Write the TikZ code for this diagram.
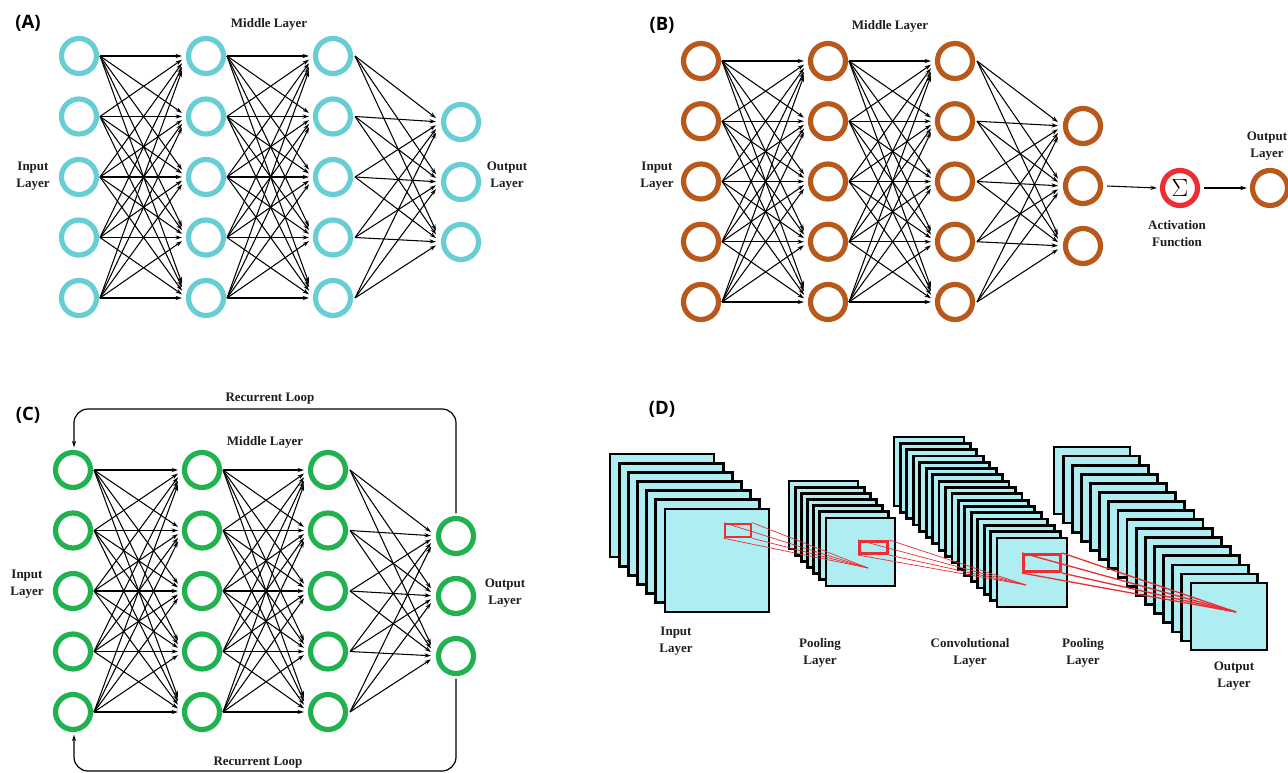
\documentclass[tikz,border=0pt]{standalone}
\usepackage{fontspec}
\setmainfont{Liberation Serif}
\newfontfamily\panelfont{Open Sans}
\usetikzlibrary{arrows.meta,calc}
\definecolor{ringA}{RGB}{104,206,214}
\definecolor{ringB}{RGB}{184,88,26}
\definecolor{ringC}{RGB}{32,178,78}
\definecolor{dfill}{RGB}{174,238,242}
\definecolor{redc}{RGB}{238,44,50}
\definecolor{txt}{RGB}{30,30,30}
\newcommand{\mlpnet}[9]{%
  \foreach \i in {1,...,5}{%
    \node[neuron,draw=#2] (#1a\i) at (#3,{#7+(\i-1)*#9}) {};
    \node[neuron,draw=#2] (#1b\i) at (#4,{#7+(\i-1)*#9}) {};
    \node[neuron,draw=#2] (#1c\i) at (#5,{#7+(\i-1)*#9}) {};
  }
  \foreach \i in {1,2,3}{%
    \node[neuron,draw=#2] (#1d\i) at (#6,{#8+(\i-1)*60}) {};
  }
  \foreach \i in {1,...,5}{%
    \foreach \j in {1,...,5}{%
      \draw[conn] let \p1=(#1a\i.center),\p2=(#1b\j.center) in (\x1+21pt,\y1) -- (\x2-24pt,{\y2+0.06*((\y1)-(\y2))});
      \draw[conn] let \p1=(#1b\i.center),\p2=(#1c\j.center) in (\x1+21pt,\y1) -- (\x2-24pt,{\y2+0.06*((\y1)-(\y2))});
    }
    \foreach \j in {1,2,3}{%
      \draw[conn] let \p1=(#1c\i.center),\p2=(#1d\j.center) in (\x1+22pt,\y1) -- (\x2-25pt,{\y2+0.06*((\y1)-(\y2))});
    }
  }
}
\newcommand{\fmstack}[7]{%
  \foreach \k in {0,...,#5}{%
    \draw[fmap] ({#1+\k*#3},{#2+\k*#4}) rectangle ++(#6,#7);
  }
}
\begin{document}
\begin{tikzpicture}[x=1pt,y=-1pt,
  neuron/.style={circle,minimum size=35pt,inner sep=0pt,line width=5.2pt},
  conn/.style={line width=1.05pt,draw=black,-{Stealth[length=6.5pt,width=4.2pt]}},
  lab/.style={font=\bfseries\fontsize{13}{17}\selectfont,align=center,text=txt,inner sep=0pt},
  panel/.style={font=\panelfont\bfseries\fontsize{18.5}{18.5}\selectfont,inner sep=0pt,text=black},
  fmap/.style={fill=dfill,draw=black,line width=2.8pt},
  redbox/.style={rectangle,draw=redc,line width=2.6pt,inner sep=0pt},
  redline/.style={draw=redc,line width=0.7pt},
  loopline/.style={line width=1.2pt,rounded corners=14pt,-{Stealth[length=6.5pt,width=4.2pt]}}]
\useasboundingbox[fill=white] (0,0) rectangle (1288,773);

% ---------------- (A)
\node[panel] (pA) at (28,23) {(A)};
\mlpnet{A}{ringA}{79}{206}{333}{461}{56}{122}{60.5}
\node[lab] (midA) at (269,24) {Middle Layer};
\node[lab] (inA) at (33,176) {Input\\Layer};
\node[lab] (outA) at (507,176) {Output\\Layer};

% ---------------- (B)
\node[panel] (pB) at (662,25) {(B)};
\mlpnet{B}{ringB}{701}{828}{955}{1083}{61}{126}{60.25}
\node[lab] (midB) at (890,26) {Middle Layer};
\node[lab] (inB) at (657,176) {Input\\Layer};
\node[neuron,draw=redc] (sig) at (1180,188) {\fontsize{26}{26}\selectfont$\Sigma$};
\node[neuron,draw=ringB] (outB) at (1270,188) {};
\draw[conn] ([xshift=4pt]Bd2.east) -- ([xshift=-3pt]sig.west);
\draw[conn] ([xshift=4pt]sig.east) -- ([xshift=-3pt]outB.west);
\node[lab] (actB) at (1177,234) {Activation\\Function};
\node[lab] (outBl) at (1267,146) {Output\\Layer};

% ---------------- (C)
\node[panel] (pC) at (28,415) {(C)};
\mlpnet{C}{ringC}{73}{202}{328}{456}{470}{536}{60.5}
\coordinate (topy) at (0,409);
\coordinate (boty) at (0,771);
\draw[loopline] ([yshift=2.6pt]Cd1.north) -- (Cd1 |- topy) -- ([xshift=1pt]Ca1 |- topy) -- ([xshift=1pt,yshift=2.6pt]Ca1.north);
\draw[loopline] ([yshift=-2.6pt]Cd3.south) -- (Cd3 |- boty) -- ([xshift=1pt]Ca5 |- boty) -- ([xshift=1pt,yshift=-2.6pt]Ca5.south);
\node[lab] (recT) at (270,399) {Recurrent Loop};
\node[lab] (midC) at (265,442) {Middle Layer};
\node[lab] (inC) at (27,584) {Input\\Layer};
\node[lab] (outC) at (505,593) {Output\\Layer};
\node[lab,fill=white,inner ysep=1pt] (recB) at (258,763) {Recurrent Loop};

% ---------------- (D)
\node[panel] (pD) at (662,409) {(D)};
\fmstack{610}{454}{9.17}{9.17}{6}{104}{103}
\fmstack{789}{481}{6.17}{6.17}{6}{69}{68}
\fmstack{894}{437}{6.44}{6.31}{16}{70}{69}
\fmstack{1054}{447}{9.13}{9.07}{15}{76}{67}
\node[redbox,minimum width=26pt,minimum height=13pt] (R1) at (738,530.5) {};
\node[redbox,minimum width=28.5pt,minimum height=12.5pt] (R2) at (873.5,547.5) {};
\node[redbox,minimum width=37.5pt,minimum height=17.5pt] (R3) at (1042,563) {};
\coordinate (P1) at (868,568);
\coordinate (P2) at (1026,585);
\coordinate (P3) at (1236,612);
\foreach \a in {north west,north east,south west,south east}{
  \draw[redline] (R1.\a) -- (P1);
  \draw[redline] (R2.\a) -- (P2);
  \draw[redline,line width=1.3pt] (R3.\a) -- (P3);
}
\node[lab] (inD) at (676,641) {Input\\Layer};
\node[lab] (pool1) at (820,653) {Pooling\\Layer};
\node[lab] (conv) at (970,653) {Convolutional\\Layer};
\node[lab] (pool2) at (1083,653) {Pooling\\Layer};
\node[lab] (outD) at (1234,676) {Output\\Layer};
\end{tikzpicture}
\end{document}
